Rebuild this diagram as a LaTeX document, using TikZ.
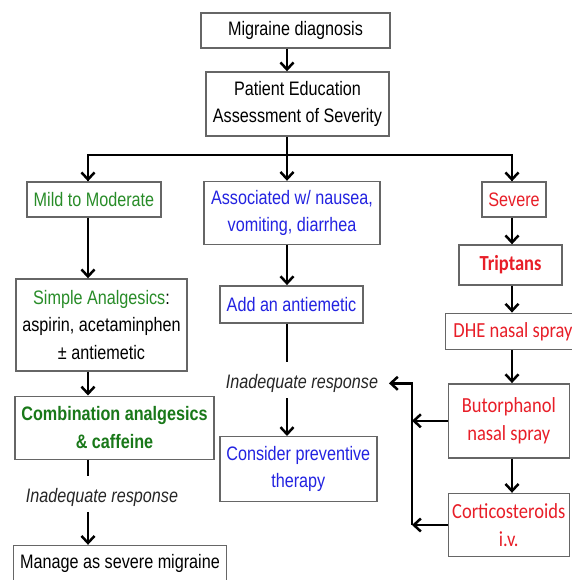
\documentclass[tikz,border=0pt]{standalone}
\usepackage{fontspec}
\setmainfont{Liberation Sans}[FakeStretch=0.83]
\newfontfamily\calfont{Carlito}[FakeStretch=0.86]
\usetikzlibrary{arrows.meta,positioning}

\definecolor{mildgreen}{RGB}{40,140,40}
\definecolor{combogreen}{RGB}{25,120,25}
\definecolor{nauseablue}{RGB}{35,35,225}
\definecolor{severered}{RGB}{232,30,40}

\begin{document}
\begin{tikzpicture}[
  x=1pt, y=-1pt,
  font=\fontsize{19.5pt}{27.5pt}\selectfont,
  box/.style={rectangle, draw=black!60, line width=1.4pt, align=center, inner sep=0pt},
  redbox/.style={box, text=severered, font=\calfont\fontsize{21.5pt}{28.3pt}\selectfont},
  note/.style={inner sep=0pt, text=black!85, font=\fontsize{19.5pt}{27.5pt}\selectfont\itshape},
  line/.style={draw, line width=2.5pt, -{Straight Barb[length=7pt, width=13pt]}},
  stub/.style={draw, line width=2.5pt},
  trunk/.style={draw, line width=2.8pt}
]

\useasboundingbox (0,0) rectangle (571,580);
\fill[white] (0,0) rectangle (571,580);

% column guides
\coordinate (spine) at (287,0);
\coordinate (fork) at (287,155);
\coordinate (colL) at (88,0);
\coordinate (colR) at (512,0);
\coordinate (rail) at (412,0);

\node[box, minimum width=189pt, minimum height=35pt] (diag) at (295.5,30.5) {Migraine diagnosis};
\node[box, minimum width=183pt, minimum height=64pt] (edu) at (297.5,104) {Patient Education\\Assessment of Severity};

\node[box, text=mildgreen, minimum width=134pt, minimum height=35pt] (mild) at (94,199.5) {Mild to Moderate};
\node[box, text=nauseablue, minimum width=176pt, minimum height=63pt] (assoc) at (292,213) {Associated w/ nausea,\\vomiting, diarrhea};
\node[box, text=severered, minimum width=64pt, minimum height=35pt] (severe) at (514,199.5) {Severe};

% left branch
\node[box, minimum width=171pt, minimum height=92pt] (simple) at (101.5,325) {\textcolor{mildgreen}{Simple Analgesics}:\\aspirin, acetaminphen\\± antiemetic};
\node[box, text=combogreen, font=\fontsize{19.5pt}{27.5pt}\selectfont\bfseries, minimum width=199pt, minimum height=63pt] (combo) at (114.5,427.7) {Combination analgesics\\\& caffeine};
\node[note] (inadL) at (102,497.6) {Inadequate response};
\node[box, minimum width=213pt, minimum height=36pt] (manage) at (120,563.5) {Manage as severe migraine};

% middle branch
\node[box, text=nauseablue, minimum width=143pt, minimum height=37pt] (antiem) at (291.5,304.3) {Add an antiemetic};
\node[note] (inadM) at (302,383.3) {Inadequate response};
\node[box, text=nauseablue, minimum width=157pt, minimum height=65pt] (prevent) at (298.3,469.2) {Consider preventive\\therapy};

% right branch
\node[redbox, font=\calfont\fontsize{21.5pt}{28.3pt}\selectfont\bfseries, minimum width=103pt, minimum height=40pt] (triptans) at (510.5,265) {Triptans};
\node[redbox, minimum width=135pt, minimum height=36pt] (dhe) at (513,331.3) {DHE nasal spray};
\node[redbox, minimum width=121pt, minimum height=74pt] (butor) at (508.8,420.8) {Butorphanol\\nasal spray};
\node[redbox, minimum width=121pt, minimum height=63pt] (cortico) at (508.7,525) {Corticosteroids\\i.v.};

\path[line] (diag.south -| spine) -- (edu.north -| spine);
\path[trunk] (edu.south -| spine) -- (fork);
\path[trunk] (mild.north -| colL) |- (fork) -| (severe.north -| colR);
\path[line] (fork) -| (mild.north -| colL);
\path[line] (fork) -| (severe.north -| colR);
\path[line] (fork) -- (assoc.north -| spine);

\path[line] (mild.south -| colL) -- (simple.north -| colL);
\path[line] (simple.south -| colL) -- (combo.north -| colL);
\path[stub, shorten >=12.5pt] (combo.south -| colL) -- (inadL.north -| colL);
\path[line, shorten <=5pt] (inadL.south -| colL) -- (manage.north -| colL);

\path[line] (assoc.south -| spine) -- (antiem.north -| spine);
\path[stub, shorten >=12.4pt] (antiem.south -| spine) -- (inadM.north -| spine);
\path[line, shorten <=5.6pt] (inadM.south -| spine) -- (prevent.north -| spine);

\path[line] (severe.south -| colR) -- (triptans.north -| colR);
\path[line] (triptans.south -| colR) -- (dhe.north -| colR);
\path[line] (dhe.south -| colR) -- (butor.north -| colR);
\path[line] (butor.south -| colR) -- (cortico.north -| colR);

\path[line, shorten >=10.7pt] (cortico.west -| rail) -- (rail |- inadM.east) -- (inadM.east);
\path[line] (butor.west) -- (butor.west -| rail);
\path[line] (cortico.west) -- (cortico.west -| rail);

\end{tikzpicture}
\end{document}
